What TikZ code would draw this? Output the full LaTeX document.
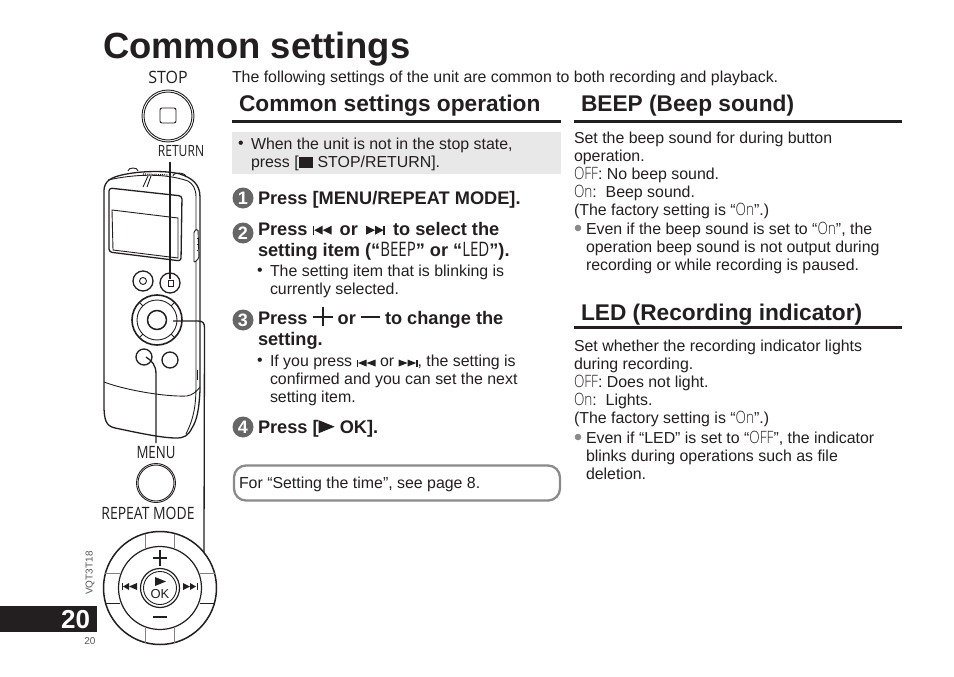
\documentclass[tikz,border=0pt]{standalone}
\usepackage{fontspec}
\setmainfont{Liberation Sans}
\newfontfamily\seg[FakeStretch=0.75]{Open Sans}
\newfontfamily\segA[FakeStretch=0.94]{Open Sans}
\newfontfamily\segB[FakeStretch=0.78]{Open Sans}
\newfontfamily\segC[FakeStretch=0.82]{Open Sans}
\newfontfamily\segl[FakeStretch=0.8]{Open Sans Light}
\definecolor{ink}{HTML}{231F20}
\definecolor{stepgray}{HTML}{666666}
\definecolor{boxgray}{HTML}{E8E8E8}
\definecolor{rim}{HTML}{8A8A8A}
\tikzset{
 x=1pt,y=-1pt,
 every node/.style={inner sep=0pt,outer sep=0pt,text=ink},
 body/.style={anchor=north west,align=left,font=\fontsize{15.9}{18}\selectfont},
 stepb/.style={anchor=north west,align=left,font=\fontsize{18.2}{21}\selectfont\bfseries},
 head/.style={anchor=base west,font=\fontsize{22.7}{28}\selectfont\bfseries},
 stepc/.style={circle,fill=stepgray,minimum size=21pt,text=white,font=\fontsize{18}{18}\selectfont\bfseries},
 dev/.style={draw=ink,line width=1.3pt,line join=round},
 thin/.style={draw=ink,line width=.9pt},
 lead/.style={draw=ink,line width=1.3pt},
}
\newcommand{\skb}{\tikz[x=1pt,y=-1pt,baseline=-1pt]{\fill[ink](0,-9)rectangle(1.6,0);\fill[ink](1.6,-4.5)--(10,-9)--(10,0)--cycle;\fill[ink](10,-4.5)--(19,-9)--(19,0)--cycle;}}
\newcommand{\skf}{\tikz[x=1pt,y=-1pt,baseline=-1pt]{\fill[ink](0,-9)--(9,-4.5)--(0,0)--cycle;\fill[ink](9,-9)--(17.5,-4.5)--(9,0)--cycle;\fill[ink](17.4,-9)rectangle(19,0);}}
\newcommand{\skbs}{\tikz[x=1pt,y=-1pt,baseline=0pt]{\fill[ink](0,-7)rectangle(1.4,0);\fill[ink](1.4,-3.5)--(10,-7)--(10,0)--cycle;\fill[ink](10,-3.5)--(19,-7)--(19,0)--cycle;}}
\newcommand{\skfs}{\tikz[x=1pt,y=-1pt,baseline=0pt]{\fill[ink](0,-7)--(9,-3.5)--(0,0)--cycle;\fill[ink](9,-7)--(17.6,-3.5)--(9,0)--cycle;\fill[ink](17.6,-7)rectangle(19,0);}}
\newcommand{\sgn}[1]{{\fontsize{17}{18}\segl #1}}
\newcommand{\sgl}[1]{{\fontsize{20}{18}\seg\mdseries #1}}
\begin{document}
\begin{tikzpicture}
\useasboundingbox (0,0) rectangle (954,677);
\fill[white] (0,0) rectangle (954,677);
% title
\node[anchor=base west,font=\fontsize{36.4}{40}\selectfont\bfseries] (title) at (103,59) {Common settings};
\node[body] (intro) at (232,71) {The following settings of the unit are common to both recording and playback.};
% headings
\node[head] (h1) at (239,112) {Common settings operation};
\node[head] (h2) at (581,112) {BEEP (Beep sound)};
\node[head] (h3) at (581,320) {LED (Recording indicator)};
\fill[ink] (232,119.5) rectangle (561,122.5);
\fill[ink] (574,119.5) rectangle (902,122.5);
\fill[ink] (574,326) rectangle (902,329);
% gray box
\fill[boxgray] (232,132) rectangle (561,174);
\node[body] (b0) at (238,138) {\vphantom{T}•};
\node[body] (t0) at (251,138) {When the unit is not in the stop state,\\press [\rule{14.5pt}{11pt}\ STOP/RETURN].};
% steps
\node[stepc] (s1) at (243,198) {1};
\node[stepc] (s2) at (243,233) {2};
\node[stepc] (s3) at (243,320) {3};
\node[stepc] (s4) at (243,427) {4};
\node[stepb] (p1) at (258,191.5) {Press [MENU/REPEAT MODE].};
\node[stepb] (p2) at (258,222.5) {Press \skb{}\,\ or\ \,\skf{}\,\ to select the\\setting item (“\sgl{BEEP}” or “\sgl{LED}”).};
\node[body] (b2) at (257,265) {\vphantom{T}•};
\node[body] (t2) at (270,265) {The setting item that is blinking is\\currently selected.};
\node[stepb] (p3) at (258,311.5) {Press \smash{\tikz[x=1pt,y=-1pt,baseline=-.5pt]{\fill[ink](0,-7.7)rectangle(20,-5.7);\fill[ink](9,-17)rectangle(11,2);}} or \smash{\tikz[x=1pt,y=-1pt,baseline=-.5pt]{\fill[ink](0,-7.7)rectangle(19,-5.7);}} to change the\\setting.};
\node[body] (b3) at (257,355) {\vphantom{T}•};
\node[body] (t3) at (270,355) {If you press \skbs{} or \skfs{}, the setting is\\confirmed and you can set the next\\setting item.};
\node[stepb] (p4) at (258,420.5) {Press [\smash{\tikz[x=1pt,y=-1pt,baseline=-.5pt]{\fill[ink](0,-13)--(16,-6.5)--(0,0)--cycle;}} OK].};
% note
\node[draw=rim,line width=2.3pt,rounded corners=12pt,minimum width=326pt,minimum height=35pt,anchor=north west] (note) at (234,465.5) {};
\node[body] (nt) at (239,477) {For “Setting the time”, see page 8.};
% beep text
\node[body] (r1) at (574,132) {Set the beep sound for during button\\operation.\\\sgn{OFF}: No beep sound.\\\sgn{On}:\ \ Beep sound.\\(The factory setting is “\sgn{On}”.)};
\fill[rim] (578,228) circle (3.3);
\node[body] (r2) at (586,222) {Even if the beep sound is set to “\sgn{On}”, the\\operation beep sound is not output during\\recording or while recording is paused.};
\node[body] (r3) at (574,340) {Set whether the recording indicator lights\\during recording.\\\sgn{OFF}: Does not light.\\\sgn{On}:\ \ Lights.\\(The factory setting is “\sgn{On}”.)};
\fill[rim] (578,437) circle (3.3);
\node[body] (r4) at (586,431) {Even if “LED” is set to “\sgn{OFF}”, the indicator\\blinks during operations such as file\\deletion.};
% page tab
\fill[ink] (0,606) rectangle (97,632);
\node[anchor=base east,text=white,font=\fontsize{26}{26}\selectfont\bfseries] (pg) at (90,628) {20};
\node[font=\fontsize{10}{10}\selectfont,text=ink!75] (pg2) at (90,641) {20};
\node[rotate=90,font=\fontsize{10}{10}\selectfont,text=ink!75] (vqt) at (90,573) {VQT3T18};
% labels
\node[font=\fontsize{17}{18}\segA] (stop) at (168,77) {STOP};
\node[font=\fontsize{15.5}{18}\segB] (ret) at (181,151) {RETURN};
\node[font=\fontsize{17}{18}\segB] (menu) at (156,453) {MENU};
\node[font=\fontsize{17}{18}\segC] (rep) at (148,513) {REPEAT MODE};
% stop button
\draw[thin] (168,116) circle (26);
\draw[thin] (168,116) circle (24);
\draw[thin,rounded corners=2pt] (160,108) rectangle (176,123);
% device
\draw[dev] (104,195) .. controls (103,183) and (108,179) .. (118,176) .. controls (135,171) and (165,170) .. (180,174) .. controls (192,178) and (200,184) .. (200,197) -- (200,390) .. controls (199,410) and (197,420) .. (192,428) .. controls (188,436) and (184,438) .. (176,438) .. controls (160,438) and (130,431) .. (115,428) .. controls (106,426) and (104,420) .. (104,405) -- cycle;
\draw[thin] (108,180) .. controls (135,174) and (165,173) .. (188,181) .. controls (193,184) and (196,189) .. (196,197) -- (196,385) .. controls (196,405) and (194,418) .. (186,434);
\draw[thin] (104,382) .. controls (125,390) and (165,397) .. (187,396) .. controls (193,395) and (197,391) .. (200,387);
% top details
\draw[thin] (128,171) .. controls (128,167) and (138,167) .. (138,171);
\draw[thin] (173,176) .. controls (173,172) and (186,172) .. (186,177);
\draw[thin,densely dotted,line width=1.2pt] (143,174) -- (168,175);
\draw[thin] (143,187) -- (148,176);
\draw[thin] (147,187) -- (151,176);
% screen
\draw[dev,rounded corners=3pt] (109,188) -- (182,196) -- (181,261) -- (109,252) -- cycle;
\draw[thin] (112,210) -- (178,218) -- (178,258) -- (113,250) -- cycle;
% slider
\draw[thin,fill=white,rounded corners=1.5pt] (194,231) -- (198,229) -- (199,258) -- (194,263) -- cycle;
\draw[thin] (197,238) -- (198,238) (197,244) -- (198,244) (197,250) -- (198,250);
% upper buttons
\draw[dev] (143,281) circle (10);
\draw[thin] (143,281) circle (3.5);
\draw[dev] (170,283) circle (10);
\draw[thin] (168,280) rectangle (173,286);
% dpad
\draw[dev,line width=1.6pt] (157,320) circle (25);
\draw[thin] (157,320) circle (20);
\draw[dev,line width=1.5pt] (157,320) circle (9.5);
\foreach \a in {45,135,225,315} {\draw[thin] (\a:20) ++(157,320) -- ++(\a:5);}
% lower buttons
\draw[dev] (144,357) circle (8);
\draw[dev] (170,360) circle (8);
\draw[thin] (197,370) -- (197,380);
% menu button
\draw[thin] (156,483) circle (19.5);
\draw[thin] (156,483) circle (18);
% leaders
\coordinate (retA) at (170,162);
\coordinate (retB) at (170,279);
\coordinate (menA) at (156,443);
\coordinate (menB) at (146,357);
\coordinate (whA) at (173,321);
\coordinate (whB) at (204,553);
\draw[lead] (retA) -- (retB);
\draw[lead] (menA) -- (156,374) .. controls (156,365) and (152,361) .. (menB);
\draw[lead] (whA) -- (198,321) .. controls (203,321) and (204.5,323) .. (204.5,328) -- (whB);
% wheel
\draw[draw=ink,line width=1.5pt] (160,588) circle (56.5);
\draw[draw=ink,line width=1.2pt] (160,588) circle (41.5);
\draw[draw=ink,line width=1.2pt] (160,588) circle (19.5);
\draw[thin] (160,588) circle (16.5);
\draw[draw=gray,line width=.8pt] (145.5,548) -- (145.5,534) (174.5,548) -- (174.5,534) (200,573) -- (215,573) (105,573) -- (120,573) (145.5,628) -- (145.5,643) (174.5,628) -- (174.5,643);
\draw[thin] (105,603) -- (120,603) (200,603) -- (215,603);
\fill[ink] (153,557) rectangle (167,559);
\fill[ink] (159,550) rectangle (161,566);
\fill[ink] (153,616) rectangle (167,618);
\fill[ink] (122,583) rectangle (123,590);
\fill[ink] (123,586.5) -- (129,583) -- (129,590) -- cycle;
\fill[ink] (129,586.5) -- (137,583) -- (137,590) -- cycle;
\fill[ink] (183,583) -- (190,586.5) -- (183,590) -- cycle;
\fill[ink] (190,583) -- (196,586.5) -- (190,590) -- cycle;
\fill[ink] (197,583) rectangle (198,590);
\fill[ink] (155,577) -- (166,581.5) -- (155,586) -- cycle;
\node[font=\fontsize{13}{13}\selectfont] (ok) at (160,594) {OK};
\end{tikzpicture}
\end{document}
